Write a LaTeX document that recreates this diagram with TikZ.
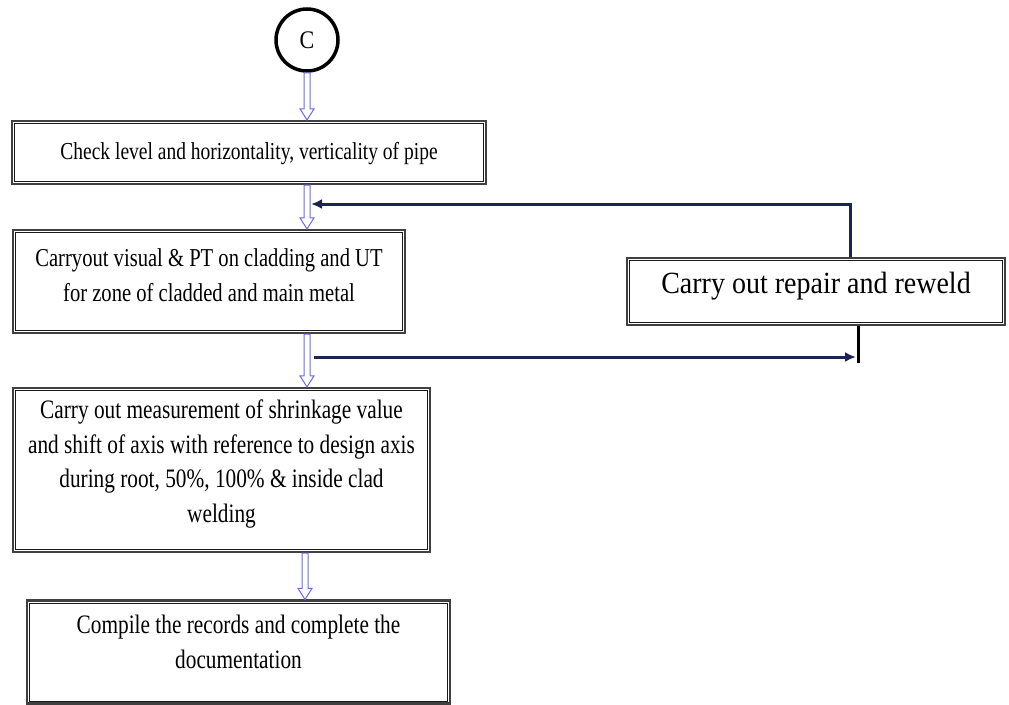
\documentclass[tikz,border=0pt]{standalone}
\usepackage{fontspec}
\usepackage{graphicx}
\setmainfont{Liberation Serif}
\usetikzlibrary{calc,arrows.meta}
\definecolor{navy}{HTML}{1B2550}
\definecolor{hblue}{HTML}{6B6BEA}
\tikzset{
  procbox/.style={draw=black!75, line width=2.2pt, align=center, inner sep=0pt},
  innerline/.style={draw=black!90, line width=0.9pt},
  fs/.style={font=\fontsize{#1}{27.6}\selectfont},
  hollowarrow/.style={draw=hblue, line width=1pt, fill=white, line join=miter},
  fbarrow/.style={draw=navy, line width=3pt, -{Latex[length=11pt,width=10pt]}},
}
% tall text: vertical stretch #1, raised by #2 (via extra depth)
\newcommand\tall[3]{\raisebox{0pt}[\height][\dimexpr\depth+#2pt+#2pt\relax]{%
  \scalebox{1}[#1]{\begin{tabular}{@{}c@{}}#3\end{tabular}}}}
\newcommand\hollowdown[2]{%
  \draw[hollowarrow] ($(#1)+(-3,0)$) -- ($(#2)+(-3,-11)$) -- ++(-4,0) -- (#2)
    -- ($(#2)+(7,-11)$) -- ++(-4,0) -- ($(#1)+(3,0)$) -- cycle;}
\begin{document}
\begin{tikzpicture}[x=1pt,y=-1pt]
\useasboundingbox (0,0) rectangle (1009,704);
\coordinate (axis) at (307,0);
\coordinate (axisb) at (305,0);
\node[draw=black, line width=3.5pt, circle, minimum size=62pt, inner sep=0pt,
  font=\fontsize{22}{22}\selectfont] (c) at (307,40) {\scalebox{1}[1.15]{C}};
\node[procbox, fs=19.5, minimum width=474pt, minimum height=63pt] (b1) at (249,152.5)
  {\tall{1.25}{0}{Check level and horizontality, verticality of pipe}};
\node[procbox, fs=20.6, minimum width=392pt, minimum height=103pt] (b2) at (209,281.5)
  {\tall{1.25}{4.5}{Carryout visual \& PT on cladding and UT\\for zone of cladded and main metal}};
\node[procbox, fs=21.3, minimum width=417pt, minimum height=164pt] (b3) at (221.5,470)
  {\tall{1.25}{6.5}{Carry out measurement of shrinkage value\\and shift of axis with reference to design axis\\during root, 50\%, 100\% \& inside clad\\welding}};
\node[procbox, fs=21.3, minimum width=423pt, minimum height=103pt] (b4) at (238.5,652)
  {\tall{1.25}{8}{Compile the records and complete the\\documentation}};
\node[procbox, fs=28, minimum width=378pt, minimum height=67pt] (rep) at (816,291.5)
  {\tall{1.1}{4}{Carry out repair and reweld}};
\foreach \n in {b1,b2,b3,b4,rep}
  \draw[innerline] ([shift={(3.6pt,-3.6pt)}]\n.north west) rectangle ([shift={(-3.6pt,3.6pt)}]\n.south east);
% feedback connectors
\coordinate (retEnd) at (311,204);
\coordinate (outStart) at (314,357);
\coordinate (outEnd) at (856,357);
\draw[fbarrow] ($(rep.north)+(34,0)$) |- (retEnd);
\draw[fbarrow] (outStart) -- (outEnd);
\draw[draw=black, line width=3pt] ($(rep.south)+(42,0)$) -- ($(rep.south)+(42,37)$);
% hollow down arrows
\hollowdown{c.south -| axis}{b1.north -| axis}
\hollowdown{b1.south -| axis}{b2.north -| axis}
\hollowdown{b2.south -| axis}{b3.north -| axis}
\hollowdown{b3.south -| axisb}{b4.north -| axisb}
\end{tikzpicture}
\end{document}
